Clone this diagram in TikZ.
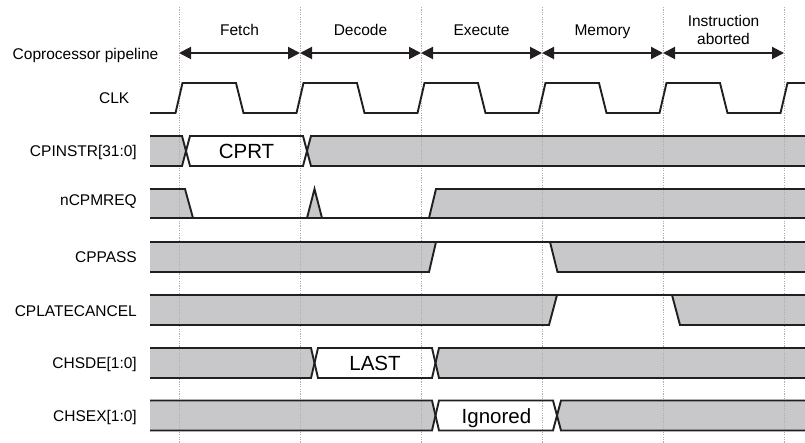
\documentclass[tikz,border=0pt]{standalone}
\usepackage{fontspec}
\setmainfont{Liberation Sans}
\usetikzlibrary{arrows.meta,positioning}
\definecolor{SigGray}{RGB}{200,200,202}
\definecolor{SigBlack}{RGB}{35,31,32}
\definecolor{GridGray}{RGB}{175,175,175}

\begin{document}
\begin{tikzpicture}[
  x=1pt,y=-1pt,
  sig/.style={draw=SigBlack,line width=1.9pt,line join=miter},
  dontcare/.style={fill=SigGray},
  gridline/.style={GridGray,line width=0.8pt,dash pattern=on 1.2pt off 1.2pt},
  stagearrow/.style={{Triangle[length=12pt,width=12pt]}-{Triangle[length=12pt,width=12pt]},
                     line width=2pt,SigBlack},
  signame/.style={anchor=east,inner sep=0pt,text height=11pt,text depth=0pt,
                  font=\fontsize{15.5}{18.6}\selectfont},
  stage/.style={inner sep=0pt,font=\fontsize{15.5}{18.6}\selectfont},
  busval/.style={inner sep=0pt,text height=15pt,text depth=0pt,
                 font=\fontsize{20.5}{24}\selectfont}
]
  \useasboundingbox (0,0) rectangle (805,443);

  % Undefined regions
  \fill[dontcare] (150,136)--(182,136)--(186,151)--(182,166)--(150,166)--cycle;
  \fill[dontcare] (311,136)--(805,136)--(805,166)--(311,166)--(307,151)--cycle;
  \fill[dontcare] (150,189)--(185,189)--(193,218)--(150,218)--cycle;
  \fill[dontcare] (307,218)--(314.5,189)--(322,218)--cycle;
  \fill[dontcare] (429,218)--(436,189)--(805,189)--(805,218)--cycle;
  \fill[dontcare] (150,242)--(436,242)--(429,272)--(150,272)--cycle;
  \fill[dontcare] (550,242)--(805,242)--(805,272)--(557.5,272)--cycle;
  \fill[dontcare] (150,295)--(557,295)--(549,325)--(150,325)--cycle;
  \fill[dontcare] (672,295)--(805,295)--(805,325)--(680,325)--cycle;
  \fill[dontcare] (150,348)--(311,348)--(314.5,363)--(311,378)--(150,378)--cycle;
  \fill[dontcare] (439,348)--(805,348)--(805,378)--(439,378)--(435.5,363)--cycle;
  \fill[dontcare] (150,400.5)--(432,400.5)--(435.5,415.5)--(432,430.5)--(150,430.5)--cycle;
  \fill[dontcare] (561,400.5)--(805,400.5)--(805,430.5)--(561,430.5)--(557,415.5)--cycle;

  % Clock edges
  \foreach \i in {0,...,5} {
    \draw[gridline] (179+121*\i,7) -- (179+121*\i,443);
    \coordinate (p\i) at (179+121*\i,53);
  }

  % Pipeline stages
  \draw[stagearrow] (p0) -- (p1);
  \draw[stagearrow] (p1) -- (p2);
  \draw[stagearrow] (p2) -- (p3);
  \draw[stagearrow] (p3) -- (p4);
  \draw[stagearrow] (p4) -- (p5);
  \node[stage,anchor=base] (fetch)   at (239.5,35.7) {Fetch};
  \node[stage,anchor=base] (decode)  at (360.5,35.7) {Decode};
  \node[stage,anchor=base] (execute) at (481.5,35.7) {Execute};
  \node[stage,anchor=base] (memory)  at (602.5,35.7) {Memory};
  \node[stage,align=center] (aborted) at (723.5,30) {Instruction\\aborted};

  % Signal names
  \node[signame] (lblpipe)   at (158.5,54)  {Coprocessor pipeline};
  \node[signame] (lblclk)    at (129.5,98)  {CLK};
  \node[signame] (lblinstr)  at (137,151)   {CPINSTR[31:0]};
  \node[signame] (lblreq)    at (137,200)   {nCPMREQ};
  \node[signame] (lblpass)   at (137,257)   {CPPASS};
  \node[signame] (lblcancel) at (137,311)   {CPLATECANCEL};
  \node[signame] (lblsde)    at (137,363)   {CHSDE[1:0]};
  \node[signame] (lblsex)    at (137,415.5) {CHSEX[1:0]};

  % Waveforms
  \draw[sig] (150,113) foreach \t in {179,300,421,542,663}
    { -- (\t-3.5,113) -- (\t+3.5,83) -- (\t+57,83) -- (\t+64.5,113) }
    -- (780.5,113) -- (787.5,83) -- (805,83);

  \draw[sig] (150,136)--(182,136)--(190,166)--(303,166)--(311,136)--(805,136);
  \draw[sig] (150,166)--(182,166)--(190,136)--(303,136)--(311,166)--(805,166);

  \draw[sig] (150,189)--(185,189)--(193,218);
  \draw[sig] (307,218)--(314.5,189)--(322,218);
  \draw[sig] (429,218)--(436,189)--(805,189);
  \draw[sig] (150,218)--(805,218);

  \draw[sig] (150,242)--(805,242);
  \draw[sig] (150,272)--(429,272)--(436,242);
  \draw[sig] (550,242)--(557.5,272)--(805,272);

  \draw[sig] (150,295)--(805,295);
  \draw[sig] (150,325)--(549,325)--(557,295);
  \draw[sig] (672,295)--(680,325)--(805,325);

  \draw[sig] (150,348)--(311,348)--(318,378)--(432,378)--(439,348)--(805,348);
  \draw[sig] (150,378)--(311,378)--(318,348)--(432,348)--(439,378)--(805,378);

  \draw[sig] (150,400.5)--(432,400.5)--(439,430.5)--(553,430.5)--(561,400.5)--(805,400.5);
  \draw[sig] (150,430.5)--(432,430.5)--(439,400.5)--(553,400.5)--(561,430.5)--(805,430.5);

  \node[busval] (cprt)    at (246.5,151)   {CPRT};
  \node[busval] (last)    at (375,363)     {LAST};
  \node[busval] (ignored) at (496.5,415.5) {Ignored};
\end{tikzpicture}
\end{document}
